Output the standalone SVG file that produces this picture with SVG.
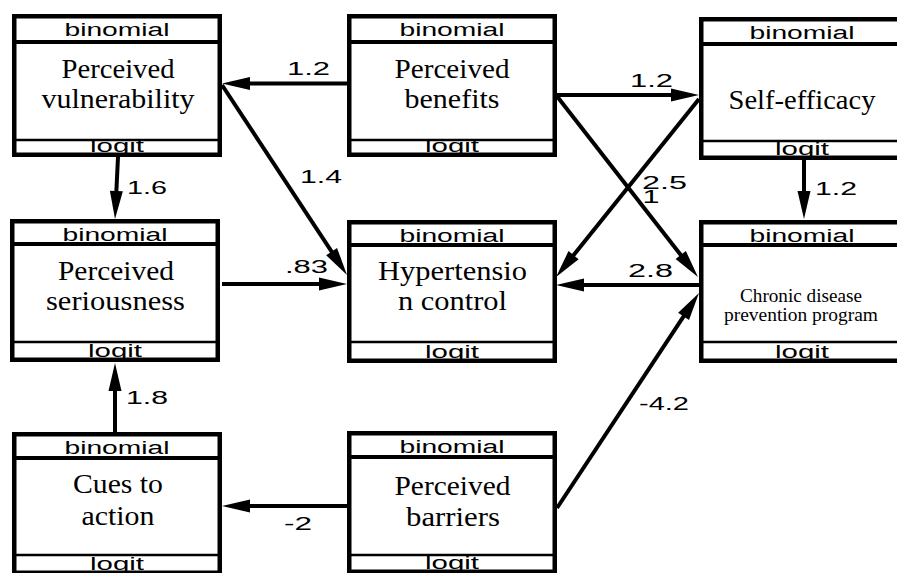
<svg xmlns="http://www.w3.org/2000/svg" width="897" height="573" viewBox="0 0 897 573">
<style>
.box{fill:#fff;stroke:#000;stroke-width:4.5}
.s1{stroke:#000;stroke-width:4}
.s2{stroke:#000;stroke-width:2.5}
.hdr{font-family:"Liberation Sans",Arial,sans-serif;font-size:18px;text-anchor:middle;fill:#000}
.lbl{font-family:"Liberation Serif","Times New Roman",serif;font-size:27px;text-anchor:middle;fill:#000}
.sm{font-size:18px}
.edge{stroke:#000;stroke-width:4;fill:none;marker-end:url(#ah)}
.el{font-family:"Liberation Sans",Arial,sans-serif;font-size:18px;text-anchor:middle;fill:#000}
</style>
<defs>
<marker id="ah" markerUnits="userSpaceOnUse" markerWidth="30" markerHeight="14" refX="18" refY="6.5" orient="auto" overflow="visible">
<path d="M0,0 L28,6.5 L0,13 Z" fill="#000"/>
</marker>
</defs>
<rect width="897" height="573" fill="#fff"/>
<g id="connectors">
<line class="edge" x1="347" y1="83.5" x2="232" y2="83.5"/>
<line class="edge" x1="222" y1="85" x2="341.5" y2="266.6"/>
<line class="edge" x1="556" y1="95" x2="689" y2="95"/>
<line class="edge" x1="556" y1="95" x2="691.8" y2="269.1"/>
<line class="edge" x1="699" y1="99" x2="562.3" y2="269.2"/>
<line class="edge" x1="804" y1="160" x2="804" y2="209"/>
<line class="edge" x1="118" y1="157" x2="115.5" y2="209"/>
<line class="edge" x1="222" y1="284" x2="337" y2="284"/>
<line class="edge" x1="699" y1="285" x2="566" y2="285"/>
<line class="edge" x1="115" y1="433" x2="115" y2="373"/>
<line class="edge" x1="347" y1="506" x2="232" y2="506"/>
<line class="edge" x1="557" y1="508" x2="693.5" y2="301.3"/>
<text class="el" x="308.5" y="75" textLength="43" lengthAdjust="spacingAndGlyphs">1.2</text>
<text class="el" x="321" y="183" textLength="42" lengthAdjust="spacingAndGlyphs">1.4</text>
<text class="el" x="651.5" y="87" textLength="43" lengthAdjust="spacingAndGlyphs">1.2</text>
<text class="el" x="664.5" y="189" textLength="45" lengthAdjust="spacingAndGlyphs">2.5</text>
<text class="el" x="651" y="203" textLength="17" lengthAdjust="spacingAndGlyphs">1</text>
<text class="el" x="306.5" y="273" textLength="43" lengthAdjust="spacingAndGlyphs">.83</text>
<text class="el" x="650.5" y="277" textLength="45" lengthAdjust="spacingAndGlyphs">2.8</text>
<text class="el" x="147" y="194" textLength="40" lengthAdjust="spacingAndGlyphs">1.6</text>
<text class="el" x="836" y="195" textLength="42" lengthAdjust="spacingAndGlyphs">1.2</text>
<text class="el" x="147" y="404" textLength="42" lengthAdjust="spacingAndGlyphs">1.8</text>
<text class="el" x="298" y="530" textLength="28" lengthAdjust="spacingAndGlyphs">-2</text>
<text class="el" x="664" y="410" textLength="50" lengthAdjust="spacingAndGlyphs">-4.2</text>
</g>
<g id="vulnerability" transform="translate(12,14)">
<rect class="box" x="2.25" y="2.25" width="205.5" height="138.5"/>
<text class="hdr" x="105" y="22" textLength="105" lengthAdjust="spacingAndGlyphs">binomial</text>
<line class="s1" x1="2" y1="28" x2="208" y2="28"/>
<text class="hdr" x="105" y="138" textLength="54" lengthAdjust="spacingAndGlyphs">logit</text>
<line class="s2" x1="2" y1="126" x2="208" y2="126"/>
<text class="lbl" x="106" y="64" textLength="113" lengthAdjust="spacingAndGlyphs">Perceived</text>
<text class="lbl" x="106" y="94" textLength="153" lengthAdjust="spacingAndGlyphs">vulnerability</text>
</g>
<g id="benefits" transform="translate(347,14)">
<rect class="box" x="2.25" y="2.25" width="205.5" height="138.5"/>
<text class="hdr" x="105" y="22" textLength="105" lengthAdjust="spacingAndGlyphs">binomial</text>
<line class="s1" x1="2" y1="28" x2="208" y2="28"/>
<text class="hdr" x="105" y="138" textLength="54" lengthAdjust="spacingAndGlyphs">logit</text>
<line class="s2" x1="2" y1="126" x2="208" y2="126"/>
<text class="lbl" x="105" y="64" textLength="115" lengthAdjust="spacingAndGlyphs">Perceived</text>
<text class="lbl" x="105" y="94" textLength="95" lengthAdjust="spacingAndGlyphs">benefits</text>
</g>
<g id="selfefficacy" transform="translate(699,17)">
<rect class="box" x="2.25" y="2.25" width="205.5" height="138.5"/>
<text class="hdr" x="103" y="22" textLength="105" lengthAdjust="spacingAndGlyphs">binomial</text>
<line class="s1" x1="2" y1="27" x2="208" y2="27"/>
<text class="hdr" x="103" y="138" textLength="54" lengthAdjust="spacingAndGlyphs">logit</text>
<line class="s2" x1="2" y1="124" x2="208" y2="124"/>
<text class="lbl" x="103" y="92" textLength="147" lengthAdjust="spacingAndGlyphs">Self-efficacy</text>
</g>
<g id="seriousness" transform="translate(10,219)">
<rect class="box" x="2.25" y="2.25" width="205.5" height="138.5"/>
<text class="hdr" x="105" y="22" textLength="105" lengthAdjust="spacingAndGlyphs">binomial</text>
<line class="s1" x1="2" y1="25" x2="208" y2="25"/>
<text class="hdr" x="105" y="138" textLength="54" lengthAdjust="spacingAndGlyphs">logit</text>
<line class="s2" x1="2" y1="123" x2="208" y2="123"/>
<text class="lbl" x="106" y="61" textLength="116" lengthAdjust="spacingAndGlyphs">Perceived</text>
<text class="lbl" x="105.5" y="91" textLength="139" lengthAdjust="spacingAndGlyphs">seriousness</text>
</g>
<g id="hypertension" transform="translate(347,220)">
<rect class="box" x="2.25" y="2.25" width="205.5" height="138.5"/>
<text class="hdr" x="105" y="22" textLength="105" lengthAdjust="spacingAndGlyphs">binomial</text>
<line class="s1" x1="2" y1="25" x2="208" y2="25"/>
<text class="hdr" x="105" y="138" textLength="54" lengthAdjust="spacingAndGlyphs">logit</text>
<line class="s2" x1="2" y1="122" x2="208" y2="122"/>
<text class="lbl" x="105.5" y="60" textLength="149" lengthAdjust="spacingAndGlyphs">Hypertensio</text>
<text class="lbl" x="105.5" y="90" textLength="109" lengthAdjust="spacingAndGlyphs">n control</text>
</g>
<g id="chronic" transform="translate(699,220)">
<rect class="box" x="2.25" y="2.25" width="205.5" height="138.5"/>
<text class="hdr" x="103" y="22" textLength="105" lengthAdjust="spacingAndGlyphs">binomial</text>
<line class="s1" x1="2" y1="25" x2="208" y2="25"/>
<text class="hdr" x="103" y="138" textLength="54" lengthAdjust="spacingAndGlyphs">logit</text>
<line class="s2" x1="2" y1="122" x2="208" y2="122"/>
<text class="lbl sm" x="102" y="82" textLength="122" lengthAdjust="spacingAndGlyphs">Chronic disease</text>
<text class="lbl sm" x="102" y="101" textLength="154" lengthAdjust="spacingAndGlyphs">prevention program</text>
</g>
<g id="cues" transform="translate(12,432)">
<rect class="box" x="2.25" y="2.25" width="205.5" height="138.5"/>
<text class="hdr" x="105" y="22" textLength="105" lengthAdjust="spacingAndGlyphs">binomial</text>
<line class="s1" x1="2" y1="26" x2="208" y2="26"/>
<text class="hdr" x="105" y="138" textLength="54" lengthAdjust="spacingAndGlyphs">logit</text>
<line class="s2" x1="2" y1="123" x2="208" y2="123"/>
<text class="lbl" x="106" y="61" textLength="90" lengthAdjust="spacingAndGlyphs">Cues to</text>
<text class="lbl" x="106" y="93" textLength="73" lengthAdjust="spacingAndGlyphs">action</text>
</g>
<g id="barriers" transform="translate(347,431)">
<rect class="box" x="2.25" y="2.25" width="205.5" height="138.5"/>
<text class="hdr" x="105" y="22" textLength="105" lengthAdjust="spacingAndGlyphs">binomial</text>
<line class="s1" x1="2" y1="26" x2="208" y2="26"/>
<text class="hdr" x="105" y="138" textLength="54" lengthAdjust="spacingAndGlyphs">logit</text>
<line class="s2" x1="2" y1="124" x2="208" y2="124"/>
<text class="lbl" x="105.5" y="64" textLength="116" lengthAdjust="spacingAndGlyphs">Perceived</text>
<text class="lbl" x="106" y="95" textLength="94" lengthAdjust="spacingAndGlyphs">barriers</text>
</g>
</svg>
